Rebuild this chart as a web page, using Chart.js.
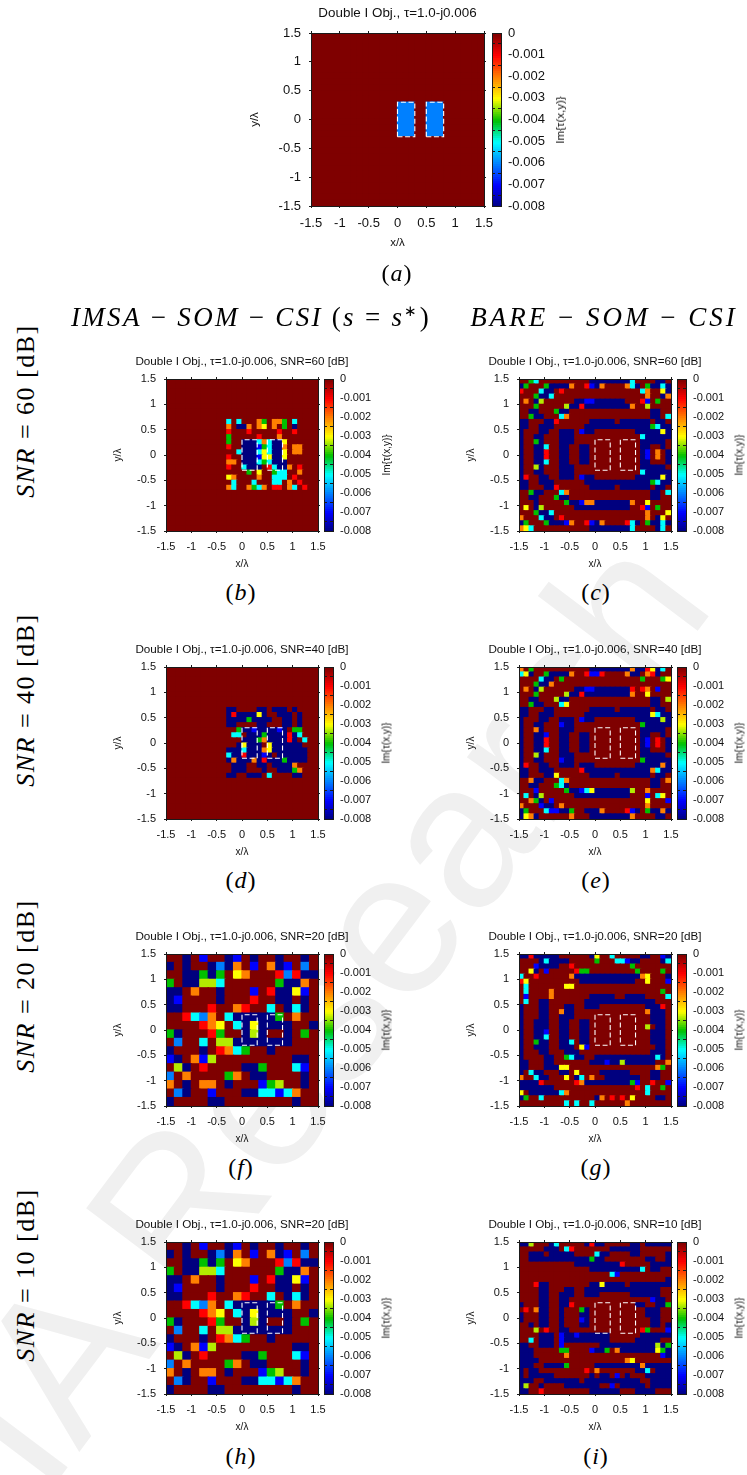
<!DOCTYPE html>
<html><head><meta charset="utf-8">
<script src="https://cdn.jsdelivr.net/npm/chart.js@4"></script>
<style>
html,body{margin:0;padding:0;background:#fff;}
#page{position:relative;width:747px;height:1475px;overflow:hidden;background:#fff;}
canvas{position:absolute;filter:blur(0.3px);}
.t{position:absolute;white-space:nowrap;transform-origin:center;color:#000;}
.m{font-family:"Liberation Serif",serif;}
.m i{font-style:italic;}
.s{font-family:"Liberation Sans",sans-serif;color:#111;}
#wm{position:absolute;font-family:"Liberation Sans",sans-serif;color:#f0f0f0;white-space:nowrap;}
</style></head><body><div id="page"></div>
<script>
// Codes of the image cells: . 0, r -0.001, o -0.002, y -0.003, l -0.0033, g -0.004, c -0.005, b -0.006, B -0.007, n -0.008
const cellValues = {'.':0,r:-0.001,o:-0.002,y:-0.003,l:-0.0033,g:-0.004,c:-0.005,b:-0.006,B:-0.007,n:-0.008};
const axisTicks = [-1.5,-1,-0.5,0,0.5,1,1.5];
const colorbarTicks = [0,-0.001,-0.002,-0.003,-0.004,-0.005,-0.006,-0.007,-0.008];
const colorStops = ['#7f0000','#ff0000','#ff8000','#ffff00','#00c000','#00ffff','#0080ff','#0000ff','#00007f'];
const objectLeft = [[0,-0.3],[0.3,-0.3],[0.3,0.3],[0,0.3],[0,-0.3]];
const objectRight = [[0.5,-0.3],[0.8,-0.3],[0.8,0.3],[0.5,0.3],[0.5,-0.3]];

const panelA = ["","","","","","","","","","","","",
"...............bbb..bbb.......","...............bbb..bbb.......","...............bbb..bbb.......",
"...............bbb..bbb.......","...............bbb..bbb.......","...............bbb..bbb.......",
"","","","","","","","","","","",""];

const panelB = ["","","","","","","","",
"............c.c...og.oog.c....",
"............o.nno.oy.o.g.n....",
"............r...r.....r..r....",
"............g.....r...o.......",
"............g..nnncocnny......",
"............r..nnnBgcnno.oo...",
"..............cnnncycnny.oo...",
"............r..nnnByynny......",
"............oo.nnncgcnnn......",
"............r..cnnn.rcnno.r...",
"................g.y..gcc..o...",
"............yo....o..ccc.r....",
".............c...c...cc.o.r...",
"............oc..ogco.rr.oc.r..",
"","","","","","","",""];

const panelC = [
"..gc..........nnnnnnnnc....nn.",
"ng...gnnnno..rBno....ocn.gnncn",
"r...cnn.r...............co..yn",
"...gnnc..................o..no",
".o.nl......nnBBnnnnnn...rB.g..",
"...g.....lnnrnnnnnnnnno..l....",
"..nn...gnn................nn..",
"..gnn...co................nn.c",
"nn...nnr......nnnnn.nnnnnn.nn.",
"nn..nnn......nnnnnnnnnnnnngcnn",
"n...nn..nnn.Bnn........nnnnnyn",
"n..nn...nnn.............cnnnnn",
"n..gn...nnn.............nnnnn.",
"n..nnc..nn..nn..........nn..n.",
"n..nnr..nn..nn..........nB.o.n",
"n..nnr..nn..nn..........nB.o.n",
"n..nnc..nn..nn..........nn...n",
"n..ln...nnn.............nnnnn.",
"n..nn...nnn.............cnnnnn",
"nr..nn..nnn.Bnn........nnnnnyn",
"nn..nnn......nnnnnnnnnnnnngcnn",
"nn...nnr......nnnnn.nnnnnn.nn.",
"..gnn...co................nn.c",
"..nn...gnn................nn..",
"...n.....gnnBoonnnnnnno..y....",
".y.nl......nnnnnnnnnnn..rB.g..",
"...gnnc..................o...y",
"o...cnn.r................o.ny.",
"ng...gnnnBo..rBno....rcn.gnncn",
"oyc...........nnnnnnnnc....nc."];

const panelD = ["","","","","","","","",
"............nn....nn.nnn.n....",
"............nrnnnnyn..nnn.n...",
"............nnnngnnnn..nn.n...",
"............nn....nn...nn.n...",
"..............gnnBnnnnBn.gg...",
".............cc.nnngnnnnrnc...",
"...............nnngonnnnrn.c..",
"..............nynnn.ynnnnnn...",
"............nnncnnnoynnnnnnn..",
"............cnnrnnnBn.nnnnnn..",
"............nonnnonrnnngnnnn..",
".............nnn..nn.nnnno....",
".............nnn...n..nnngo...",
"............nn..nnn.c....nn...",
"","","","","","","",""];

const panelE = [
"o.g...........nnnnnnnnonnrync.",
"cyn..gnnnno..rBBr....onn.orn..",
"....cnn.g...............g...gy",
"...gnno.......................",
".o.nl......nnBBnnnnnnnr.ro.B..",
"...g.....lnnrnnnnnnnnno..y....",
"..nn...lnn................nn.l",
"..gnn...cy................nn..",
"nn...nn.......nnnnn.nnnnnn.nn.",
"nn..nnn......nnnnnnnnnnnnnycnn",
"n...nn..nnn.Bnn........nnnnnln",
"n..nn...Bnn.............gnnnnn",
"n..on...nnn.............nnnnn.",
"n..nnB..nn..nn..........nn..n.",
"n..nnr..nn..nn..........nB.r.n",
"n..nnr..nn..nn..........nB.r.n",
"n..nnc..nn..nn..........nn...n",
"n..ln...nnn.............nnnnn.",
"n..nn...Bnn.............gnnnnn",
"nr..nn..nnn.nnn........nnnnnon",
"nn..nnn.....rnnnnnnnnnnnnnocnn",
"nn...nny......nnnnn.nnnnnn.nn.",
"..onn...co................nn.o",
"..nn...gcn................nn..",
"...B.....gnnBcynnnnnnnl..o....",
".c.nl......nnnnnnnnnnn...B.cy.",
"..ogn.B..................y...B",
"o...Bnn.o................o....",
"ng...cBBnng..nnno....rBn.gnnon",
"nyon......o...nnnnnnnno....nn."];

const panelF = [
"..n.B..nB.n..n..n.",
"n.n..nbno.B.onB.b.",
"..nngng.yo...rbrnn",
"g.nnllc......gnno.",
"nn.o..n...B.rnnyB.",
"nB....n...r..nn.n.",
"nn...r..or..c.ncn.",
"..rcbo.cnnnnng.o..",
"....roy.cnynnnn..n",
"gn...rg..nln..n.g.",
".b..c.llnnnnnnn...",
"n...n.rocg..n.....",
"Bn.oBl.........nn.",
".ln.r....nng...cB.",
"b.o....go.nn....n.",
"o.n.oo.n...Bgl..n.",
".bn..B...nnccBco..",
"n....nn........n.."];

const panelG = [
"nnrnnnnn......ny..c.....nn..Bn",
"....ncnnnn.....g...ccBnn....nc",
"...Bnnnn..r...........g.......",
"..yn.B.....rgg.........g....g.",
"c..r......onnnnnnnnnnnnnoy...n",
"ry..........nnnnnnnnnnn..y...B",
".c.......yy...................",
".c....o.....................g.",
".B....o.......nnnnn..nnnn....c",
".c..nn.......nnnnnnnnnnnnnn...",
"n...nn...nn..nnn.........nnnr.",
"n...nn..onn..............onnn.",
"n...nn..nnn...............nnn.",
"n..nnn..nn..nn............nnn.",
"n..nnn..nn..nn...........l.nn.",
"n..nnB..nn..nn............nnn.",
"n..nnc..nn..nn............nnn.",
"n..gnn..nnc.nn............nnn.",
"n..nnn..nnn.yB.............nn.",
"n...nn...nnn..............nnn.",
"n....nn..gcnn..nnnnnnnnnnnncn.",
"nn...nn.......nnnBnnlnnnnnn..o",
"nn...nnnyy.................og.",
"n.cnn...nn.y....nnnnnn....nn..",
"o..cnn...y.nc.o..nnnnnnn..nn..",
"nnnnr......ronnnnnnnnngB..r..B",
"nnnnnnn................r.c..g.",
"y.nnnnnnco...............c....",
"ng..c..........no.r.r.y....nn.",
".........c.c..c......o........"];

const panelH = panelF;

const panelI = [
"nnl...nc.....nrnn.....nn.nnnnn",
".....nnn.cr.......nnnnnn......",
"..nnn.nnnnn....cnn....nn.....n",
"..nnnnnnnnnnnngnn........nn..n",
"...........nnnnnnnnnr.....nnnn",
"..............nnnnnnnnnnc.nn..",
"..................cB..........",
".............................n",
"...rnn........nnynnnn.nnnnnnnn",
"....nn...nn..nnnnnnnnnnnnnnn..",
"....nn..nnn..nnn......nnnnnn..",
"....nn..nn................Bnn.",
"n...nn..nnr............nn..nng",
".r.onn..n...gn...........nnn..",
"n...nn..n...nn...........nnn..",
"n...nn..n...Bn............nn..",
"..n.nn..n...nn............nn.n",
"...l.r..nn..............rg...B",
"....nnn.BnnBnnnnnn......nnnnnn",
"..c.nnn.Bnnnnnnnnn.....nnnnn..",
"nn..nnn.B.......nnnnnnnnnnnlng",
"nnn.....gg....Bnng.onnnnnnnygn",
"nnn......o..................Bn",
"nnnn.................oy.......",
"nnn..nnnng.....nnnnnnnnnonnnnn",
"n.nn.........r.o.......nnc.nnn",
"n.nnnnn.......n.nn.B.n...nnnnn",
"nnn..nnnnnnn.nnnnnnnnnnn..nnnn",
"nl..n....nnnnnnn..B.nnnnn.nnnn",
"nn..r.........nnnnnn...nnnn..."];

const panelTitles = {
  a:"Double I Obj., τ=1.0-j0.006",
  b:"Double I Obj., τ=1.0-j0.006, SNR=60 [dB]", c:"Double I Obj., τ=1.0-j0.006, SNR=60 [dB]",
  d:"Double I Obj., τ=1.0-j0.006, SNR=40 [dB]", e:"Double I Obj., τ=1.0-j0.006, SNR=40 [dB]",
  f:"Double I Obj., τ=1.0-j0.006, SNR=20 [dB]", g:"Double I Obj., τ=1.0-j0.006, SNR=20 [dB]",
  h:"Double I Obj., τ=1.0-j0.006, SNR=20 [dB]", i:"Double I Obj., τ=1.0-j0.006, SNR=10 [dB]"
};

const page = document.getElementById('page');
const SANS = '"Liberation Sans", sans-serif';
const INK = '#1a1a1a';

function hex(h){return [1,3,5].map(i=>parseInt(h.substr(i,2),16));}
function colorOf(v){
  const p = Math.min(7.9999, Math.max(0, -v/0.001));
  const i = Math.floor(p), f = p-i, a = hex(colorStops[i]), b = hex(colorStops[i+1]);
  return 'rgb('+a.map((c,k)=>Math.round(c+(b[k]-c)*f)).join(',')+')';
}
function cells(rows,n){
  const out=[];
  for(let r=0;r<n;r++){
    const row=(rows[r]||'').padEnd(n,'.').slice(0,n);
    for(let c=0;c<n;c++){
      out.push({x:-1.5+(c+0.5)*3/n, y:1.5-(r+0.5)*3/n, v:cellValues[row[c]]});
    }
  }
  return out;
}
function mk(left,top,w,h){
  const c=document.createElement('canvas');
  c.width=w;c.height=h;
  c.style.left=left+'px';c.style.top=top+'px';c.style.width=w+'px';c.style.height=h+'px';
  page.appendChild(c);
  return c.getContext('2d');
}
function rectSet(pts){
  return {type:'scatter',data:pts.map(p=>({x:p[0],y:p[1]})),showLine:true,pointRadius:0,
    borderColor:'#ffffff',borderWidth:1.1,borderDash:[5,2.6],fill:false,order:0,clip:0,xAxisID:'x',yAxisID:'y'};
}
function setTicks(list){return s=>{s.ticks=list.map(v=>({value:v}));};}

function panel(p){
  const big=p.big, S=p.S, W=big?72:60, H=big?44:40;
  const tfs=big?13:11, titleFs=big?13.4:11.7, lh=big?15:13, pb=big?10:9;
  const topH=lh+pb+2, n=p.n;
  const ctx=mk(p.L-W,p.T-topH,2*W+S,topH+S+H);
  const axisBase=(extra)=>Object.assign({type:'linear',min:-1.5,max:1.5,afterBuildTicks:setTicks(axisTicks),
     border:{display:true,color:INK,width:1,z:1},
     grid:{drawOnChartArea:false,drawTicks:true,tickLength:2,tickColor:INK,z:1}},extra);
  const rad=c=>{const a=c.chart.chartArea;const side=(a?a.width:S)/n;return (side/2+0.6)*Math.SQRT2;};
  new Chart(ctx,{
    type:'scatter',
    data:{datasets:[
      rectSet(objectLeft),rectSet(objectRight),
      {data:cells(p.rows,n),order:1,clip:0,pointStyle:'rect',borderWidth:0,pointBorderWidth:0,
       pointRadius:rad,pointHoverRadius:rad,
       pointBackgroundColor:c=>colorOf(c.raw?c.raw.v:0)}
    ]},
    options:{
      responsive:false,animation:false,events:[],
      layout:{padding:0},
      plugins:{legend:{display:false},tooltip:{enabled:false},
        title:{display:true,text:p.title,color:'#111',
          font:{family:SANS,size:titleFs,weight:'normal',lineHeight:lh/titleFs},padding:{top:0,bottom:pb}}},
      scales:{
        x:axisBase({position:'bottom',afterFit:s=>{s.height=H;},
          ticks:{autoSkip:false,maxRotation:0,minRotation:0,color:'#111',font:{family:SANS,size:tfs},padding:big?8:7,callback:v=>String(v)},
          title:{display:true,text:'x/λ',color:'#111',font:{family:SANS,size:big?11.5:10,lineHeight:1.2},padding:{top:0,bottom:big?0:1}}}),
        y:axisBase({position:'left',afterFit:s=>{s.width=W;},
          ticks:{autoSkip:false,color:'#111',font:{family:SANS,size:tfs},padding:8,callback:v=>String(v)},
          title:{display:true,text:'y/λ',color:'#111',font:{family:SANS,size:big?11.5:10,lineHeight:1.2},padding:{top:big?9:6,bottom:0}}}),
        x2:axisBase({position:'top',afterFit:s=>{s.height=2;},ticks:{display:false}}),
        y2:axisBase({position:'right',afterFit:s=>{s.width=W;},ticks:{display:false}})
      }
    }
  });
  colorbar(p,tfs);
}

const colorbarLevels=[];
for(let k=0;k<80;k++){colorbarLevels.push(-0.008+(k+0.5)*0.0001);}

function colorbar(p,tfs){
  const S=p.S, bw=p.barW, pad=18, lab=52;
  const ctx=mk(p.barL,p.T-pad,bw+lab,S+2*pad);
  new Chart(ctx,{
    type:'bar',
    data:{datasets:[{data:colorbarLevels.map(v=>({x:1,y:v})),barThickness:Math.ceil(S/80)+1,borderWidth:0,
      backgroundColor:c=>colorOf(c.raw?c.raw.y:0)}]},
    options:{
      indexAxis:'y',responsive:false,animation:false,events:[],
      layout:{padding:{left:0,top:pad,bottom:pad,right:0}},
      plugins:{legend:{display:false},tooltip:{enabled:false},title:{display:false}},
      scales:{
        y:{type:'linear',position:'right',offset:false,min:-0.008,max:0,afterBuildTicks:setTicks(colorbarTicks),
          afterFit:s=>{s.width=lab;},
          border:{display:true,color:INK,width:1,z:1,dash:[3,3]},
          grid:{drawOnChartArea:true,drawTicks:false,color:INK,z:1},
          ticks:{autoSkip:false,color:'#111',font:{family:SANS,size:tfs},padding:7,
            callback:v=>v===0?'0':v.toFixed(3)}},
        x:{type:'linear',position:'bottom',min:0,max:1,afterFit:s=>{s.height=0;},
          border:{display:true,color:INK,width:1,z:1},grid:{display:false},ticks:{display:false}},
        x2:{type:'linear',position:'top',min:0,max:1,afterFit:s=>{s.height=0;},
          border:{display:true,color:INK,width:1,z:1},grid:{display:false},ticks:{display:false}},
        y2:{type:'linear',position:'left',min:0,max:1,afterFit:s=>{s.width=0;},
          border:{display:true,color:INK,width:1,z:1},grid:{display:false},ticks:{display:false}}
      }
    }
  });
  const side=p.big?59:53;
  text('Im{τ(x,y)}',p.barL+bw+side,p.T+S/2,'s',p.big?11.5:10,-90);
}

function text(html,x,y,cls,size,rot,extra){
  const d=document.createElement('div');
  d.className='t '+cls;
  d.innerHTML=html;
  d.style.left=x+'px';d.style.top=y+'px';d.style.fontSize=size+'px';
  d.style.transform='translate(-50%,-50%) rotate('+(rot||0)+'deg)';
  if(extra)Object.assign(d.style,extra);
  page.appendChild(d);
}

// Watermark
const wm=document.createElement('div');
wm.id='wm';wm.textContent='IA Research';
wm.style.cssText='left:324px;top:1009px;font-size:205px;transform:translate(-50%,-50%) rotate(-53deg);';
page.appendChild(wm);

panel({big:true,rows:panelA,n:30,L:311,T:33,S:173,barL:492,barW:9,title:panelTitles.a});
const layout=[
 ['b',panelB,30,166,379],['c',panelC,30,519,379],
 ['d',panelD,30,166,667],['e',panelE,30,519,667],
 ['f',panelF,18,166,954],['g',panelG,30,519,954],
 ['h',panelH,18,166,1242],['i',panelI,30,519,1242]];
layout.forEach(a=>panel({big:false,rows:a[1],n:a[2],L:a[3],T:a[4],S:152,barL:a[3]+158,barW:9,title:panelTitles[a[0]]}));

// Sub-figure letters
[['a',397,273],['b',241,592],['c',596,592],['d',241,880],['e',596,880],['f',241,1167],['g',596,1167],['h',241,1456],['i',596,1456]]
 .forEach(q=>text('(<i>'+q[0]+'</i>)',q[1],q[2],'m',24,0,{letterSpacing:'1px'}));

// Column and row headings
text('<i>IMSA</i> − <i>SOM</i> − <i>CSI</i> (<i>s</i> = <i>s</i><sup style="font-size:15px;line-height:0">∗</sup>)',251,317,'m',27,0,{letterSpacing:'2.3px'});
text('<i>BARE</i> − <i>SOM</i> − <i>CSI</i>',604,317,'m',27,0,{letterSpacing:'3px'});
[['60',411],['40',700],['20',986],['10',1275]].forEach(q=>
  text('<i>SNR</i> = '+q[0]+' [dB]',26,q[1],'m',26,-90,{letterSpacing:'1.5px'}));
</script></body></html>
